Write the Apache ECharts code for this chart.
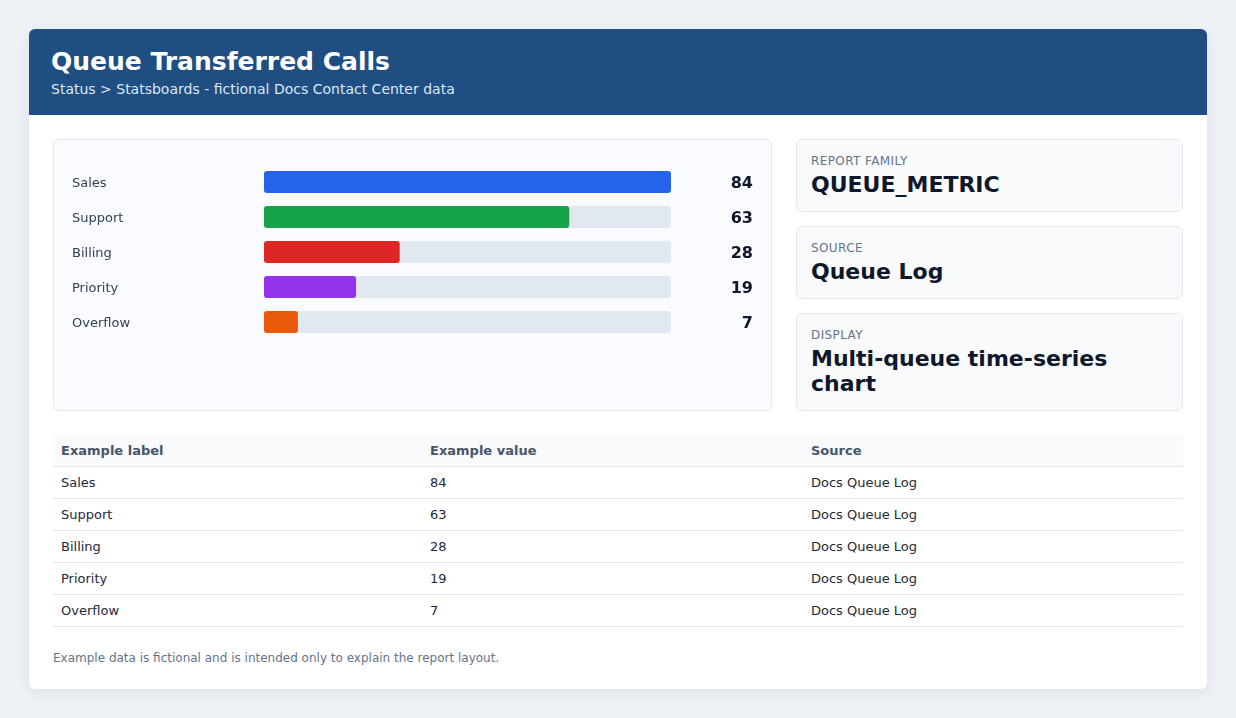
<!DOCTYPE html>
<html>
<head>
<meta charset="utf-8">
<title>Queue Transferred Calls</title>
<script src="https://cdn.jsdelivr.net/npm/echarts@6/dist/echarts.min.js"></script>
<style>
  * { box-sizing: border-box; }
  html, body { margin: 0; padding: 0; }
  body {
    width: 1236px; height: 718px;
    background: #eef2f7;
    font-family: "DejaVu Sans", sans-serif;
    color: #0f172a;
  }
  .card {
    position: absolute; left: 29px; top: 29px;
    width: 1178px; height: 660px;
    background: #fff; border-radius: 6px; overflow: hidden;
    box-shadow: 0 4px 14px rgba(15, 23, 42, 0.08);
  }
  .head {
    height: 86px; background: #1f4e82; color: #fff;
    padding: 17px 22px 0 22px;
  }
  .head h1 { margin: 0; font-size: 25px; font-weight: bold; line-height: 32px; }
  .head .sub { margin-top: 2px; font-size: 14px; color: #dbe7f5; line-height: 18px; }
  .body { padding: 24px; }
  .top { display: flex; gap: 24px; height: 272px; }
  .panel {
    width: 719px; height: 272px; background: #f9fbfe;
    border: 1px solid #e2e8f0; border-radius: 6px; position: relative;
  }
  #chart { position: absolute; left: -1px; top: -1px; width: 719px; height: 272px; }
  .side { width: 387px; display: flex; flex-direction: column; gap: 14px; }
  .info {
    background: #f8fafc; border: 1px solid #e2e8f0; border-radius: 6px;
    padding: 13px 14px 12px 14px;
  }
  .info .k { font-size: 12px; color: #64748b; letter-spacing: 0.4px; line-height: 16px; }
  .info .v { font-size: 22px; font-weight: bold; color: #0f172a; line-height: 25px; margin-top: 3px; }
  table { border-collapse: collapse; margin-top: 24px; width: 1130px; table-layout: fixed; }
  th, td { text-align: left; padding: 0 8px; height: 32px; border-bottom: 1px solid #e2e8f0; font-size: 13px; }
  th { background: #f8fafc; color: #475569; font-weight: bold; height: 31px; }
  td { color: #1e293b; }
  .note { margin-top: 24px; font-size: 12px; color: #64748b; }
</style>
</head>
<body>
<div class="card">
  <div class="head">
    <h1>Queue Transferred Calls</h1>
    <div class="sub">Status &gt; Statsboards - fictional Docs Contact Center data</div>
  </div>
  <div class="body">
    <div class="top">
      <div class="panel"><div id="chart"></div></div>
      <div class="side">
        <div class="info" style="height:73px"><div class="k">REPORT FAMILY</div><div class="v">QUEUE_METRIC</div></div>
        <div class="info" style="height:73px"><div class="k">SOURCE</div><div class="v">Queue Log</div></div>
        <div class="info" style="height:98px"><div class="k">DISPLAY</div><div class="v">Multi-queue time-series chart</div></div>
      </div>
    </div>
    <table>
      <colgroup><col style="width:369px"><col style="width:381px"><col style="width:380px"></colgroup>
      <thead><tr><th>Example label</th><th>Example value</th><th>Source</th></tr></thead>
      <tbody id="rows"></tbody>
    </table>
    <div class="note">Example data is fictional and is intended only to explain the report layout.</div>
  </div>
</div>
<script>
const queues = ['Sales', 'Support', 'Billing', 'Priority', 'Overflow']
const calls = [84, 63, 28, 19, 7]
const barColors = ['#2563eb', '#16a34a', '#dc2626', '#9333ea', '#ea580c']
const sourceName = 'Docs Queue Log'

// table below the chart
document.getElementById('rows').innerHTML = queues.map((q, i) =>
  '<tr><td>' + q + '</td><td>' + calls[i] + '</td><td>' + sourceName + '</td></tr>'
).join('')

const chart = echarts.init(document.getElementById('chart'))
chart.setOption({
  animation: false,
  textStyle: { fontFamily: 'DejaVu Sans' },
  grid: { left: 211, right: 101, top: 25.5, height: 175 },
  xAxis: { type: 'value', min: 0, max: Math.max(...calls), show: false },
  yAxis: [{
    type: 'category',
    data: queues,
    inverse: true,
    axisLine: { show: false },
    axisTick: { show: false },
    axisLabel: {
      align: 'left', margin: 192,
      formatter: '{n|{value}}',
      rich: { n: { fontSize: 13, color: '#334155', padding: [4, 0, 0, 0] } }
    }
  }, {
    type: 'category',
    position: 'right',
    data: calls,
    inverse: true,
    axisLine: { show: false },
    axisTick: { show: false },
    axisLabel: {
      align: 'right', margin: 82,
      formatter: '{v|{value}}',
      rich: { v: { fontSize: 16, fontWeight: 'bold', color: '#0f172a', padding: [4, 0, 0, 0] } }
    }
  }],
  series: [{
    type: 'bar',
    data: calls.map((v, i) => ({ value: v, itemStyle: { color: barColors[i] } })),
    barWidth: 22,
    showBackground: true,
    backgroundStyle: { color: '#e2e8f0', borderRadius: 3 },
    itemStyle: { borderRadius: 3 }
  }]
})
</script>
</body>
</html>
